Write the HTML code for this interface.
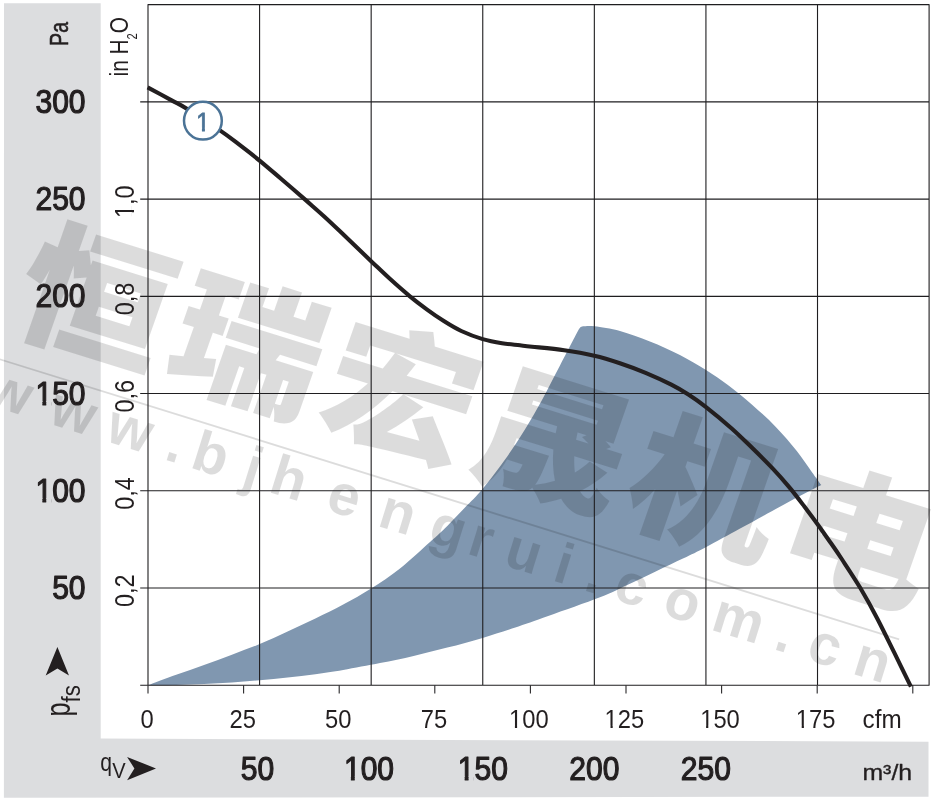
<!DOCTYPE html>
<html lang="de"><head><meta charset="utf-8"><title>Kennlinie</title>
<style>html,body{margin:0;padding:0;background:#fff}svg{display:block}text{font-family:"Liberation Sans","Noto Sans CJK SC",sans-serif;fill:#231f20}.b{stroke:#231f20;stroke-width:1.2px;stroke-linejoin:round}.wm{font-family:"Liberation Sans","Noto Sans CJK SC","WenQuanYi Zen Hei",sans-serif;font-weight:900;fill:#000;fill-opacity:.137}.wu{font-family:"Liberation Sans",sans-serif;font-weight:bold;fill:#000;fill-opacity:.137}</style></head><body>
<svg width="934" height="803" viewBox="0 0 934 803">
<defs><clipPath id="c0"><path clip-rule="evenodd" d="M-400 -60H400V30H-400ZM-2.00 -2.99H6.27V4H-2.00ZM9.52 -2.99H14.28V4H9.52Z"/></clipPath><clipPath id="c1"><path clip-rule="evenodd" d="M-400 -60H400V30H-400ZM-58.38 -3.72H-48.53V4H-58.38ZM-44.24 -3.72H-38.30V4H-44.24Z"/></clipPath><clipPath id="c2"><path clip-rule="evenodd" d="M-400 -60H400V30H-400ZM-58.38 -3.72H-48.53V4H-58.38ZM-44.24 -3.72H-38.30V4H-44.24Z"/></clipPath><clipPath id="c3"><path clip-rule="evenodd" d="M-400 -60H400V30H-400ZM-2.00 -2.64H6.82V4H-2.00ZM9.33 -2.64H14.61V4H9.33Z"/></clipPath><clipPath id="c4"><path clip-rule="evenodd" d="M-400 -60H400V30H-400ZM-24.02 -2.57H-15.43V4H-24.02ZM-13.00 -2.57H-7.89V4H-13.00Z"/></clipPath><clipPath id="c5"><path clip-rule="evenodd" d="M-400 -60H400V30H-400ZM-24.02 -2.57H-15.43V4H-24.02ZM-13.00 -2.57H-7.89V4H-13.00Z"/></clipPath><clipPath id="c6"><path clip-rule="evenodd" d="M-400 -60H400V30H-400ZM-24.02 -2.57H-15.43V4H-24.02ZM-13.00 -2.57H-7.89V4H-13.00Z"/></clipPath><clipPath id="c7"><path clip-rule="evenodd" d="M-400 -60H400V30H-400ZM-24.02 -2.57H-15.43V4H-24.02ZM-13.00 -2.57H-7.89V4H-13.00Z"/></clipPath><clipPath id="c8"><path clip-rule="evenodd" d="M-400 -60H400V30H-400ZM-30.19 -3.72H-20.34V4H-30.19ZM-16.05 -3.72H-10.11V4H-16.05Z"/></clipPath><clipPath id="c9"><path clip-rule="evenodd" d="M-400 -60H400V30H-400ZM-30.19 -3.72H-20.34V4H-30.19ZM-16.05 -3.72H-10.11V4H-16.05Z"/></clipPath></defs>
<rect width="934" height="803" fill="#fff"/>
<path d="M4 3.2H100.7V738.6L928.5 741.7V796.65L3.9 797.85Z" fill="#dcdddf"/>
<path d="M148 685.3C152.7 683.5 166.9 678.2 176.2 674.8C185.5 671.4 194.7 668.4 204.0 665.0C213.3 661.6 222.6 658.2 231.9 654.7C241.2 651.2 250.4 648.0 259.7 644.1C269.0 640.2 278.3 635.9 287.6 631.6C296.9 627.3 306.1 623.0 315.4 618.5C324.7 614.0 333.9 609.6 343.2 604.6C352.5 599.6 361.6 594.5 371.1 588.5C380.6 582.5 390.2 576.2 400.0 568.5C409.8 560.8 422.1 549.1 430.0 542.0C437.9 534.9 441.5 531.6 447.3 525.9C453.1 520.1 459.1 513.7 465.0 507.5C470.9 501.3 476.0 496.8 482.6 488.9C489.2 481.0 497.5 470.1 504.5 460.3C511.5 450.5 518.4 440.1 524.6 430.0C530.9 419.9 536.1 410.8 542.0 400.0C547.9 389.2 553.8 377.3 560.0 365.5C566.2 353.7 575.8 335.1 579.0 329.0Q580.3 326.3 583 326.3C584.9 326.3 588.3 325.5 594.5 326.3C600.7 327.1 610.8 328.5 620.0 331.0C629.2 333.5 639.9 337.5 649.9 341.5C659.9 345.5 670.5 350.2 679.9 355.0C689.2 359.8 698.0 365.0 706.0 370.0C714.0 375.0 720.3 379.3 727.9 385.0C735.5 390.7 743.8 397.4 751.8 404.4C759.8 411.4 768.3 419.1 775.8 426.9C783.3 434.6 790.8 443.4 796.8 450.9C802.8 458.4 807.7 466.2 811.8 471.9C815.9 477.6 819.7 482.8 821.3 485.0C816.9 487.2 803.9 493.7 794.9 498.5C785.9 503.3 776.3 508.7 767.0 513.8C757.7 518.9 749.4 523.5 739.2 529.1C729.0 534.7 715.1 542.3 705.8 547.2C696.5 552.1 691.9 554.3 683.5 558.3C675.1 562.3 665.0 567.0 655.7 571.4C646.4 575.8 637.1 580.5 627.8 584.8C618.5 589.1 613.3 592.1 600.0 597.3C586.7 602.5 562.5 610.9 548.2 616.0C534.0 621.1 525.4 624.1 514.5 627.8C503.6 631.4 493.8 634.6 482.6 637.9C471.4 641.2 458.8 644.6 447.3 647.6C435.8 650.6 424.8 653.4 413.6 656.0C402.4 658.6 391.7 660.8 380.0 663.1C368.3 665.4 354.0 668.1 343.2 670.0C332.4 671.9 324.7 672.9 315.4 674.2C306.1 675.5 296.9 676.6 287.6 677.6C278.3 678.6 269.0 679.5 259.7 680.3C250.4 681.1 241.2 682.0 231.9 682.6C222.6 683.2 213.3 683.6 204.0 684.0C194.7 684.4 185.3 684.7 176.0 684.9C166.7 685.1 152.7 685.2 148.0 685.3Z" fill="#8097b0"/>
<g transform="translate(48.7 215.6) rotate(17.3)">
<text class="wm" transform="translate(-8 116) skewX(-2) scale(1.1 1)" font-size="138" letter-spacing="7.5">恒瑞宏晟机电</text>
<rect x="-60" y="150.8" width="998" height="1.9" fill="#000" fill-opacity=".137"/>
<text class="wu" y="198.5" font-size="57" x="-6.7 60 119.4 181.6 208.6 262.5 290.6 350.2 404.6 457.6 498.5 536.7 587.8 620.6 651.3 702.8 753.7 819.6 853.7 902">www.bjhengrui.com.cn</text>
</g>
<path d="M148.0 4.6H929.1V685.3H148.0ZM259.59 4.6V685.3M371.17 4.6V685.3M482.76 4.6V685.3M594.34 4.6V685.3M705.93 4.6V685.3M817.51 4.6V685.3M140.20 685.30H148.0M140.20 588.06H929.1M140.20 490.81H929.1M140.20 393.57H929.1M140.20 296.33H929.1M140.20 199.09H929.1M140.20 101.84H929.1" fill="none" stroke="#1f1e20" stroke-width="1.1" stroke-linejoin="round"/>
<path d="M148.0 685.3V693.6M243.60 685.3V693.6M339.20 685.3V693.6M434.80 685.3V693.6M530.40 685.3V693.6M626.00 685.3V693.6M721.60 685.3V693.6M817.20 685.3V693.6M912.80 685.3V693.6" fill="none" stroke="#2a292b" stroke-width="1.1"/>
<path d="M147.6 87.4C151.7 89.6 165.7 97.1 172.1 100.6C178.5 104.1 178.0 103.3 186.0 108.3C194.0 113.3 211.2 124.4 220.3 130.6C229.4 136.8 234.0 140.6 240.6 145.6C247.2 150.6 253.1 155.2 259.9 160.8C266.7 166.4 273.8 172.6 281.3 179.0C288.8 185.4 297.8 193.2 304.9 199.4C312.0 205.7 317.4 210.3 324.2 216.5C331.0 222.7 337.8 229.3 345.7 236.8C353.6 244.3 363.9 254.3 371.4 261.4C378.9 268.5 384.3 273.8 390.7 279.6C397.1 285.4 403.8 291.3 409.9 296.3C416.0 301.3 421.4 305.4 427.1 309.6C432.8 313.8 438.5 317.7 444.2 321.3C449.9 324.9 454.9 328.0 461.3 331.0C467.7 334.0 475.9 337.1 482.7 339.1C489.5 341.1 495.8 342.2 502.0 343.2C508.2 344.2 515.0 344.7 520.0 345.3C525.0 345.9 524.7 345.9 532.1 346.7C539.5 347.5 553.9 348.8 564.2 350.3C574.6 351.8 584.9 353.6 594.2 355.7C603.5 357.8 611.3 360.3 619.9 363.2C628.5 366.1 637.0 369.2 645.6 372.8C654.2 376.4 664.2 381.0 671.3 384.6C678.4 388.2 682.7 390.8 688.4 394.5C694.1 398.2 698.5 401.2 705.7 406.8C712.9 412.4 723.5 421.2 731.4 428.2C739.2 435.1 746.0 441.9 752.8 448.5C759.6 455.1 766.0 461.4 772.1 467.8C778.2 474.2 783.9 480.7 789.2 487.1C794.6 493.5 799.6 500.2 804.2 506.3C808.8 512.4 812.7 517.6 817.0 523.5C821.3 529.4 825.8 535.9 829.9 541.7C834.0 547.5 836.3 550.7 841.4 558.5C846.5 566.3 854.5 578.2 860.5 588.3C866.5 598.4 871.9 608.2 877.5 619.0C883.1 629.8 888.8 641.6 894.4 652.9C900.0 664.2 908.1 681.1 910.9 686.7" fill="none" stroke="#231f20" stroke-width="4.1"/>
<circle cx="202.9" cy="120.7" r="18.9" fill="#fff" stroke="#4b7396" stroke-width="2.5"/>
<text transform="translate(196.3 130.5) scale(0.9 1)" font-size="26.7" clip-path="url(#c0)" style="fill:#4b7396;stroke:#4b7396;stroke-width:.8px">1</text>
<text class="b" transform="translate(85.6 599.2) scale(0.89 1)" font-size="33.8" text-anchor="end">50</text>
<text class="b" transform="translate(85.6 501.9) scale(0.89 1)" font-size="33.8" text-anchor="end" clip-path="url(#c1)">100</text>
<text class="b" transform="translate(85.6 404.7) scale(0.89 1)" font-size="33.8" text-anchor="end" clip-path="url(#c2)">150</text>
<text class="b" transform="translate(85.6 307.4) scale(0.89 1)" font-size="33.8" text-anchor="end">200</text>
<text class="b" transform="translate(85.6 210.2) scale(0.89 1)" font-size="33.8" text-anchor="end">250</text>
<text class="b" transform="translate(85.6 112.9) scale(0.89 1)" font-size="33.8" text-anchor="end">300</text>
<text transform="translate(134.2 607.1) rotate(-90) scale(0.86 1)" font-size="27.3">0,2</text>
<text transform="translate(134.2 509.8) rotate(-90) scale(0.86 1)" font-size="27.3">0,4</text>
<text transform="translate(134.2 412.6) rotate(-90) scale(0.86 1)" font-size="27.3">0,6</text>
<text transform="translate(134.2 315.3) rotate(-90) scale(0.86 1)" font-size="27.3">0,8</text>
<text transform="translate(134.2 218.1) rotate(-90) scale(0.86 1)" font-size="27.3" clip-path="url(#c3)">1,0</text>
<text class="b" transform="translate(67.9 45.9) rotate(-90) scale(0.74 1)" font-size="26.4" style="stroke-width:.6px">Pa</text>
<text transform="translate(128.3 76.4) rotate(-90) scale(0.8 1)" font-size="26">in H<tspan font-size="14" dy="8.2">2</tspan><tspan dy="-8.2">O</tspan></text>
<text transform="translate(147.1 728.4) scale(0.9 1)" font-size="26.4" text-anchor="middle">0</text>
<text transform="translate(242.7 728.4) scale(0.9 1)" font-size="26.4" text-anchor="middle">25</text>
<text transform="translate(338.3 728.4) scale(0.9 1)" font-size="26.4" text-anchor="middle">50</text>
<text transform="translate(433.9 728.4) scale(0.9 1)" font-size="26.4" text-anchor="middle">75</text>
<text transform="translate(528.8 728.4) scale(0.9 1)" font-size="26.4" text-anchor="middle" clip-path="url(#c4)">100</text>
<text transform="translate(624.4 728.4) scale(0.9 1)" font-size="26.4" text-anchor="middle" clip-path="url(#c5)">125</text>
<text transform="translate(720.0 728.4) scale(0.9 1)" font-size="26.4" text-anchor="middle" clip-path="url(#c6)">150</text>
<text transform="translate(815.6 728.4) scale(0.9 1)" font-size="26.4" text-anchor="middle" clip-path="url(#c7)">175</text>
<text transform="translate(862.6 728.4) scale(0.92 1)" font-size="26.4">cfm</text>
<text class="b" transform="translate(257.4 780.2) scale(0.89 1)" font-size="33.8" text-anchor="middle">50</text>
<text class="b" transform="translate(369.0 780.2) scale(0.89 1)" font-size="33.8" text-anchor="middle" clip-path="url(#c8)">100</text>
<text class="b" transform="translate(482.8 780.2) scale(0.89 1)" font-size="33.8" text-anchor="middle" clip-path="url(#c9)">150</text>
<text class="b" transform="translate(594.3 780.2) scale(0.89 1)" font-size="33.8" text-anchor="middle">200</text>
<text class="b" transform="translate(705.9 780.2) scale(0.89 1)" font-size="33.8" text-anchor="middle">250</text>
<text class="b" transform="translate(862.4 780) scale(1.1 1)" font-size="22.6" style="stroke-width:.35px">m³/h</text>
<text transform="translate(100.2 771.2) scale(0.8 1)" font-size="26.4">q</text>
<text transform="translate(112.2 778.4) scale(0.94 1)" font-size="21.4">V</text>
<path d="M127.1 756.9L156 768.5L127.1 780.3L134.4 768.5Z" fill="#231f20"/>
<text transform="translate(69.8 716.6) rotate(-90) scale(0.7 1)" font-size="36">p</text>
<text transform="translate(79.6 702.4) rotate(-90) scale(0.86 1)" font-size="26">fs</text>
<path d="M57.4 646.9L69 675.4L57.4 668.6L45.7 675.4Z" fill="#231f20"/>
</svg></body></html>
